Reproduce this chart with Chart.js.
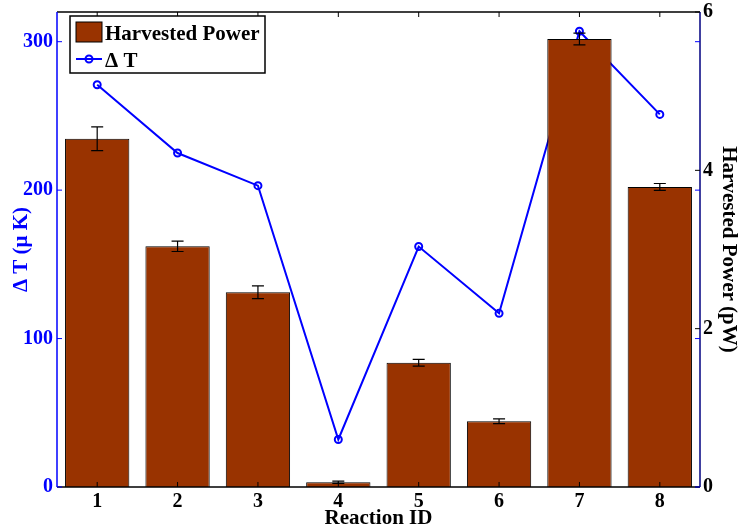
<!DOCTYPE html>
<html>
<head>
<meta charset="utf-8">
<script src="https://cdn.jsdelivr.net/npm/chart.js@4"></script>
<style>
  html, body { margin: 0; padding: 0; background: #fff; }
  #wrap { width: 741px; height: 528px; }
</style>
</head>
<body>
<div id="wrap"><canvas id="chart" width="741" height="528"></canvas></div>
<script>
// données
const reactions = ['1', '2', '3', '4', '5', '6', '7', '8'];
const power = [4.40, 3.04, 2.46, 0.06, 1.57, 0.83, 5.66, 3.79];      // pW
const powerErr = [0.15, 0.065, 0.08, 0.015, 0.043, 0.03, 0.074, 0.044];
const deltaT = [271, 225, 203, 32, 162, 117, 307, 251];              // µK
const leftTicks = [0, 100, 200, 300];
const rightTicks = [0, 2, 4, 6];

const serif = "'Liberation Serif', 'Times New Roman', serif";
const brown = '#993300';
const blue = '#0000ff';

// barres d'erreur + cadre + petits traits de graduation
const extras = {
    id: 'extras',
    afterDatasetsDraw(chart) {
        const c = chart.ctx;
        const y1 = chart.scales.y1;
        const meta = chart.getDatasetMeta(0);
        c.save();
        c.strokeStyle = '#000';
        c.lineWidth = 1.2;
        meta.data.forEach((bar, i) => {
            const top = y1.getPixelForValue(power[i] + powerErr[i]);
            const bot = y1.getPixelForValue(power[i] - powerErr[i]);
            c.beginPath();
            c.moveTo(bar.x, top); c.lineTo(bar.x, bot);
            c.moveTo(bar.x - 6, top); c.lineTo(bar.x + 6, top);
            c.moveTo(bar.x - 6, bot); c.lineTo(bar.x + 6, bot);
            c.stroke();
        });
        c.restore();
    },
    afterDraw(chart) {
        const c = chart.ctx;
        const a = chart.chartArea;
        const x = chart.scales.x, y = chart.scales.y, y1 = chart.scales.y1;
        c.save();
        c.lineWidth = 1.5;
        // cadre
        c.strokeStyle = '#000';
        c.beginPath();
        c.moveTo(a.left, a.top); c.lineTo(a.right, a.top);
        c.moveTo(a.left, a.bottom); c.lineTo(a.right, a.bottom);
        c.stroke();
        c.strokeStyle = blue;
        c.beginPath(); c.moveTo(a.left, a.top); c.lineTo(a.left, a.bottom); c.stroke();
        c.strokeStyle = '#000080';
        c.beginPath(); c.moveTo(a.right, a.top); c.lineTo(a.right, a.bottom); c.stroke();
        // graduations
        c.lineWidth = 1;
        c.strokeStyle = '#000';
        c.beginPath();
        reactions.forEach((r, i) => {
            const px = x.getPixelForValue(i);
            c.moveTo(px, a.bottom); c.lineTo(px, a.bottom - 5);
            c.moveTo(px, a.top); c.lineTo(px, a.top + 5);
        });
        rightTicks.forEach(v => {
            const py = y1.getPixelForValue(v);
            c.moveTo(a.right, py); c.lineTo(a.right - 5, py);
        });
        c.stroke();
        c.strokeStyle = blue;
        c.beginPath();
        leftTicks.forEach(v => {
            const py = y.getPixelForValue(v);
            c.moveTo(a.left, py); c.lineTo(a.left + 5, py);
            c.moveTo(a.right, py); c.lineTo(a.right - 5, py);
        });
        c.stroke();

        // légende
        c.fillStyle = '#fff';
        c.fillRect(70, 16, 195, 57);
        c.strokeStyle = '#000';
        c.lineWidth = 1.5;
        c.strokeRect(70, 16, 195, 57);
        c.fillStyle = brown;
        c.fillRect(76, 22, 26, 20);
        c.lineWidth = 1;
        c.strokeRect(76, 22, 26, 20);
        c.strokeStyle = blue;
        c.lineWidth = 2;
        c.beginPath(); c.moveTo(76, 59); c.lineTo(102, 59); c.stroke();
        c.beginPath(); c.arc(89, 59, 3.5, 0, Math.PI * 2); c.stroke();
        c.fillStyle = '#000';
        c.font = 'bold 21px ' + serif;
        c.textBaseline = 'alphabetic';
        c.fillText('Harvested Power', 105, 40);
        c.fillText('\u0394 T', 105, 67);
        c.restore();
    }
};

const ctx = document.getElementById('chart');
new Chart(ctx, {
    type: 'bar',
    data: {
        labels: reactions,
        datasets: [
            {
                label: 'Harvested Power',
                data: power,
                yAxisID: 'y1',
                backgroundColor: brown,
                borderColor: '#000',
                borderWidth: 1,
                categoryPercentage: 1,
                barPercentage: 0.8,
                order: 0
            },
            {
                type: 'line',
                label: '\u0394 T',
                data: deltaT,
                yAxisID: 'y',
                borderColor: blue,
                borderWidth: 2,
                pointRadius: 3.5,
                pointBorderWidth: 2,
                pointBackgroundColor: 'rgba(0,0,0,0)',
                pointBorderColor: blue,
                tension: 0,
                order: 1
            }
        ]
    },
    options: {
        responsive: false,
        animation: false,
        layout: { padding: { top: 12, left: 0, right: 0, bottom: 0 } },
        plugins: { legend: { display: false }, tooltip: { enabled: false } },
        scales: {
            x: {
                grid: { display: false, drawTicks: false },
                border: { display: false },
                ticks: { color: '#000', font: { family: serif, size: 20, weight: 'bold' }, padding: 3 },
                title: { display: true, text: 'Reaction ID', color: '#000', padding: { top: 0, bottom: -3 },
                         font: { family: serif, size: 21, weight: 'bold' } },
                afterFit: s => { s.height = 41; s.paddingLeft = 0; s.paddingRight = 0; }
            },
            y: {
                position: 'left',
                min: 0, max: 320,
                grid: { display: false, drawTicks: false },
                border: { display: false },
                afterBuildTicks: s => { s.ticks = leftTicks.map(v => ({ value: v })); },
                ticks: { color: blue, font: { family: serif, size: 20, weight: 'bold' }, padding: 4 },
                title: { display: true, text: '\u0394 T (\u03bc K)', color: blue, padding: { top: 9, bottom: 0 },
                         font: { family: serif, size: 21, weight: 'bold' } },
                afterFit: s => { s.width = 57; s.paddingTop = 0; s.paddingBottom = 0; }
            },
            y1: {
                position: 'right',
                min: 0, max: 6,
                grid: { display: false, drawTicks: false },
                border: { display: false },
                afterBuildTicks: s => { s.ticks = rightTicks.map(v => ({ value: v })); },
                ticks: { color: '#000', font: { family: serif, size: 20, weight: 'bold' }, padding: 3 },
                title: { display: true, text: 'Harvested Power (pW)', color: '#000', padding: { top: 0, bottom: 0 },
                         font: { family: serif, size: 21, weight: 'bold' } },
                afterFit: s => { s.width = 41; s.paddingTop = 0; s.paddingBottom = 0; }
            }
        }
    },
    plugins: [extras]
});
</script>
</body>
</html>
